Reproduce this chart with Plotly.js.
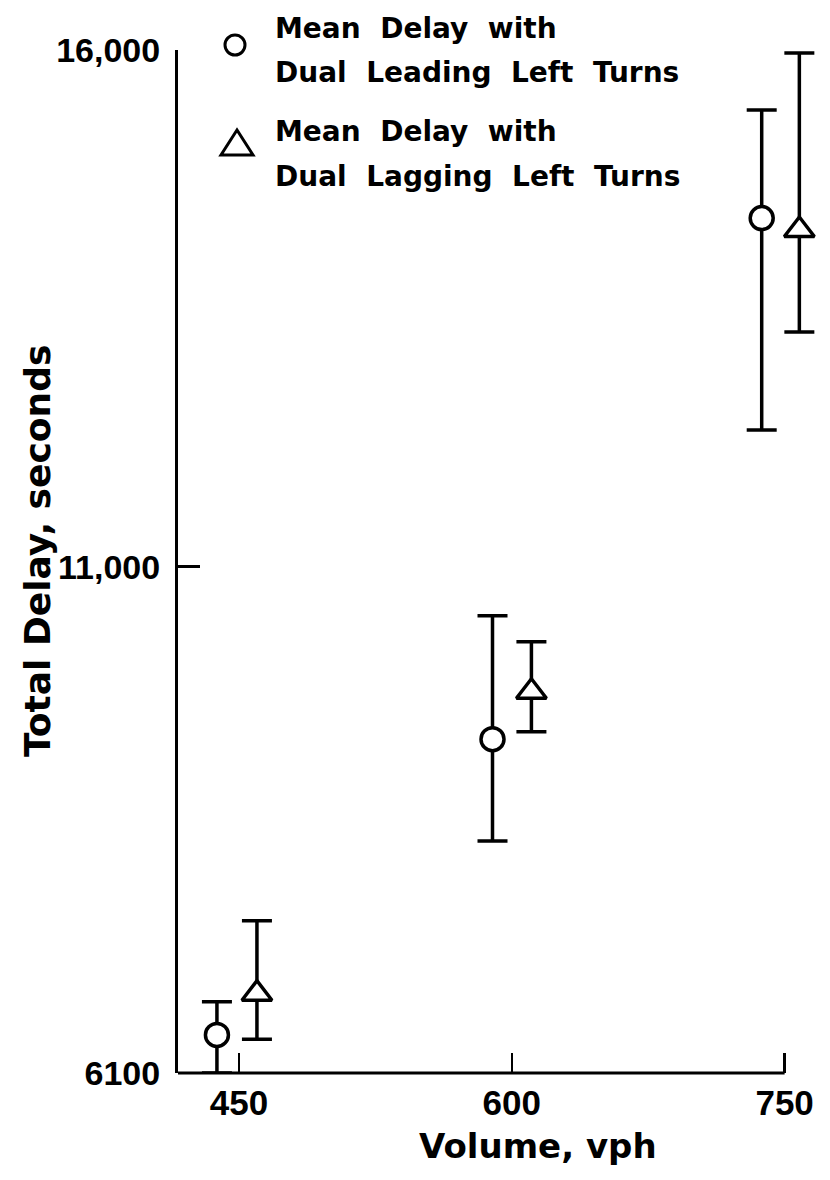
<!DOCTYPE html>
<html><head><meta charset="utf-8">
<script src="https://cdn.plot.ly/plotly-3.0.1.min.js"></script>
<style>html,body{margin:0;padding:0;background:#fff}#chart{width:830px;height:1180px}</style>
</head><body><div id="chart"></div>
<script>
// ---- data ----
const volumeTicks = [450, 600, 750];
const volumeLabels = ['450', '600', '750'];
const delayTicks = [6100, 11000, 16000];
const delayLabels = ['6100', '11,000', '16,000'];

// plotted positions of the symbols (drawn slightly left/right of each volume)
const leadX    = [437.9, 589.4, 737.4];
const leadMean = [6468, 9330, 14374];
const leadHigh = [6790, 10526, 15419];
const leadLow  = [6100, 8345, 12323];

const lagX     = [459.9, 610.8, 758.1];
const lagMean  = [6867, 9789, 14258];
const lagHigh  = [7574, 10274, 15970];
const lagLow   = [6427, 9403, 13271];

const leadName = ['Mean\u00A0\u00A0Delay\u00A0\u00A0with', 'Dual\u00A0\u00A0Leading\u00A0\u00A0Left\u00A0\u00A0Turns'];
const lagName  = ['Mean\u00A0\u00A0Delay\u00A0\u00A0with', 'Dual\u00A0\u00A0Lagging\u00A0\u00A0Left\u00A0\u00A0Turns'];
const xTitle = 'Volume, vph';
const yTitle = 'Total Delay, seconds';

// ---- chart ----
const FONT = 'DejaVu Sans';
const TICKFONT = 'Liberation Sans';
function diff(a, b) { return a.map((v, i) => v - b[i]); }

const errStyle = {type: 'data', symmetric: false, color: '#000', thickness: 3.5, width: 15};

const traces = [
  {
    type: 'scatter', mode: 'markers', x: leadX, y: leadMean, showlegend: false, cliponaxis: false,
    marker: {symbol: 'circle', size: 23, color: '#fff', line: {color: '#000', width: 3.5}},
    error_y: Object.assign({array: diff(leadHigh, leadMean), arrayminus: diff(leadMean, leadLow)}, errStyle)
  },
  {
    type: 'scatter', mode: 'markers', x: lagX, y: lagMean, showlegend: false, cliponaxis: false,
    marker: {symbol: 'triangle-up', size: 26, color: '#fff', line: {color: '#000', width: 3.5}},
    error_y: Object.assign({array: diff(lagHigh, lagMean), arrayminus: diff(lagMean, lagLow)}, errStyle)
  }
];

const X_MIN = 416.5, X_MAX = 770, AXIS_END = 750;
const W = 830, H = 1180, L = 178, R = 9, T = 50, B = 107;
const pw = W - L - R, ph = H - T - B;
const px = x => (x - L) / pw;
const py = y => (H - B - y) / ph;

function legendText(text, x, y) {
  return {xref: 'paper', yref: 'paper', x: px(x), y: py(y), xanchor: 'left', yanchor: 'middle',
    text: text, showarrow: false, font: {family: FONT, size: 28, color: '#000', weight: 'bold'}};
}

const layout = {
  width: W, height: H,
  margin: {l: L, r: R, t: T, b: B},
  paper_bgcolor: '#fff', plot_bgcolor: '#fff',
  showlegend: false,
  xaxis: {
    range: [X_MIN, X_MAX], showgrid: false, zeroline: false,
    showline: false,
    ticks: 'inside', ticklen: 20, tickwidth: 2.5, tickcolor: '#000',
    tickvals: volumeTicks, ticktext: volumeLabels,
    tickfont: {family: TICKFONT, size: 35, color: '#000', weight: 'bold'},
    ticklabelstandoff: 6,
    automargin: false
  },
  yaxis: {
    range: [6100, 16000], showgrid: false, zeroline: false,
    showline: true, linecolor: '#000', linewidth: 3,
    ticks: 'inside', ticklen: 22, tickwidth: 2.5, tickcolor: '#000',
    tickvals: delayTicks, ticktext: delayLabels,
    tickfont: {family: TICKFONT, size: 34, color: '#000', weight: 'bold'},
    ticklabelstandoff: 8,
    automargin: false
  },
  shapes: [
    // x axis line, ending at the 750 tick as in the original
    {type: 'line', xref: 'x', yref: 'paper', x0: X_MIN, x1: AXIS_END, y0: 0, y1: 0,
     line: {color: '#000', width: 3}},
    {type: 'circle', xref: 'paper', yref: 'paper', xsizemode: 'pixel', ysizemode: 'pixel',
     xanchor: px(235), yanchor: py(45), x0: -10, x1: 10, y0: -10, y1: 10,
     line: {color: '#000', width: 3}, fillcolor: 'rgba(0,0,0,0)'},
    {type: 'path', xref: 'paper', yref: 'paper', xsizemode: 'pixel', ysizemode: 'pixel',
     xanchor: px(237), yanchor: py(143), path: 'M-16,-12 L16,-12 L0,13 Z',
     line: {color: '#000', width: 3}, fillcolor: 'rgba(0,0,0,0)'}
  ],
  annotations: [
    legendText(leadName[0], 273, 28),
    legendText(leadName[1], 273, 73),
    legendText(lagName[0], 273, 131),
    legendText(lagName[1], 273, 176),
    {xref: 'paper', yref: 'paper', x: px(538), y: py(1146), xanchor: 'center', yanchor: 'middle',
     text: xTitle, showarrow: false, font: {family: FONT, size: 34, color: '#000', weight: 'bold'}},
    {xref: 'paper', yref: 'paper', x: px(37), y: py(551), xanchor: 'center', yanchor: 'middle',
     textangle: -90, text: yTitle, showarrow: false,
     font: {family: FONT, size: 36, color: '#000', weight: 'bold'}}
  ]
};

Plotly.newPlot('chart', traces, layout, {displayModeBar: false, staticPlot: true});
</script>
</body></html>
